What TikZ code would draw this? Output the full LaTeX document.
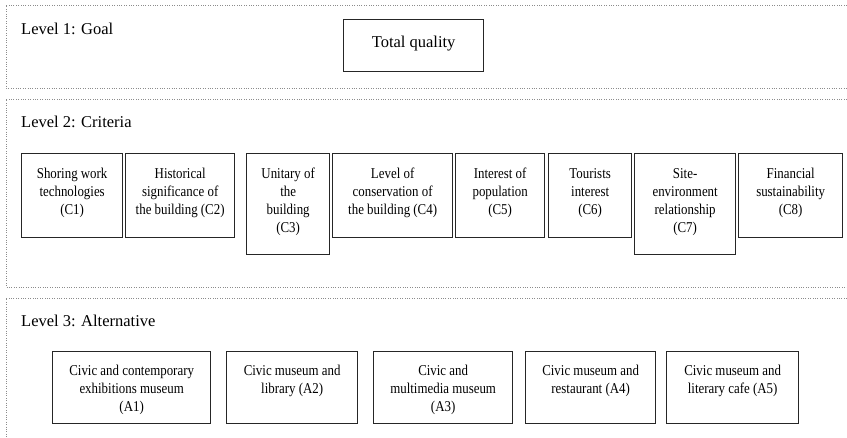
\documentclass[tikz,border=0pt]{standalone}
\usepackage{fontspec}
\setmainfont{Liberation Serif}
\newfontfamily\boxfont[FakeStretch=0.86]{Liberation Serif}

\begin{document}
\begin{tikzpicture}[x=1pt, y=-1pt,
	every node/.style={inner sep=0pt, text=black},
	level/.style={anchor=base west, font=\fontsize{16.5}{20}\selectfont},
	panel/.style={draw=black!45, line width=0.8pt, dash pattern=on 0.8pt off 1.6pt},
	goalbox/.style={draw=black!85, line width=1.3pt, anchor=north west, align=flush center, text width=140pt, text height=28pt, text depth=24pt, font=\fontsize{16.5}{20}\selectfont},
	critbox/.style={draw=black!85, line width=1.3pt, anchor=north west, align=flush center, text width=#1, text height=25pt, text depth=59pt, font=\boxfont\fontsize{15}{18}\selectfont},
	tallbox/.style={critbox=#1, text depth=76pt},
	altbox/.style={draw=black!85, line width=1.3pt, anchor=north west, align=flush center, text width=#1, text height=24pt, text depth=48pt, font=\boxfont\fontsize{15}{18}\selectfont} ]
	\useasboundingbox (0,0) rectangle (847,438);

	\draw[panel] (847,5) -- (6,5) -- (6,88) -- (847,88);
	\draw[panel] (847,99) -- (6,99) -- (6,287) -- (847,287);
	\draw[panel] (847,298) -- (6,298) -- (6,440);

	\node[level] (lev1) at (21,35) {Level 1: Goal};
	\node[level] (lev2) at (21,128) {Level 2: Criteria};
	\node[level] (lev3) at (21,327) {Level 3: Alternative};

	\node[goalbox] (goal) at (343,19) {Total quality};

	\node[critbox=101pt] (c1) at (21,153) {Shoring work\\technologies\\(C1)};
	\node[critbox=109pt] (c2) at (125,153) {Historical\\significance of\\the building (C2)};
	\node[tallbox=83pt] (c3) at (246,153) {Unitary of\\the\\building\\(C3)};
	\node[critbox=120pt] (c4) at (332,153) {Level of\\conservation of\\the building (C4)};
	\node[critbox=89pt] (c5) at (455,153) {Interest of\\population\\(C5)};
	\node[critbox=83pt] (c6) at (548,153) {Tourists\\interest\\(C6)};
	\node[tallbox=101pt] (c7) at (634,153) {Site-\\environment\\relationship\\(C7)};
	\node[critbox=104pt] (c8) at (738,153) {Financial\\sustainability\\(C8)};

	\node[altbox=158pt] (a1) at (52,351) {Civic and contemporary\\exhibitions museum\\(A1)};
	\node[altbox=131pt] (a2) at (226,351) {Civic museum and\\library (A2)};
	\node[altbox=139pt] (a3) at (373,351) {Civic and\\multimedia museum\\(A3)};
	\node[altbox=130pt] (a4) at (525,351) {Civic museum and\\restaurant (A4)};
	\node[altbox=132pt] (a5) at (666,351) {Civic museum and\\literary cafe (A5)};
\end{tikzpicture}
\end{document}
